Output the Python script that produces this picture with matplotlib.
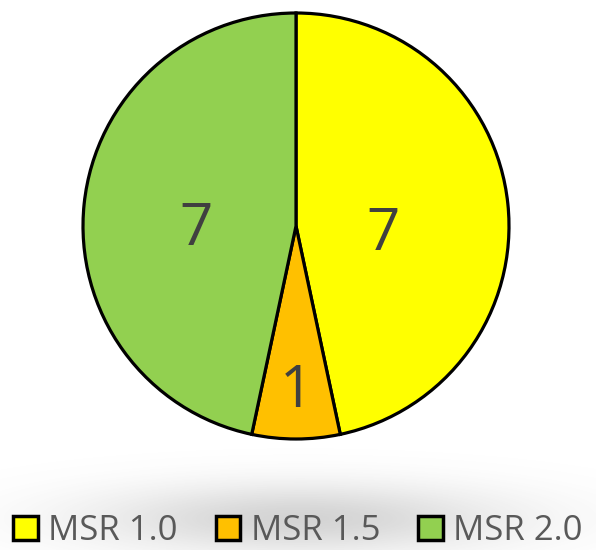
import numpy as np
import matplotlib
matplotlib.use("Agg")
import matplotlib.pyplot as plt
import matplotlib.transforms as mtransforms
from matplotlib.patches import Patch

categories = ["MSR 1.0", "MSR 1.5", "MSR 2.0"]
values = [7, 1, 7]
colors = ["#FFFF00", "#FFC000", "#92D050"]

plt.rcParams['font.family'] = ['Open Sans', 'DejaVu Sans']

W, H = 596, 550
fig = plt.figure(figsize=(W / 100, H / 100), dpi=100)

# soft shadow behind legend
bg = fig.add_axes([0, 0, 1, 1], zorder=0)
bg.set_axis_off()
yy, xx = np.mgrid[0:H, 0:W]
d = ((xx - 300) / 250.0) ** 2 + ((yy - 518) / 42.0) ** 2
alpha = np.clip(np.exp(-d * 1.5) * 0.26, 0, 1)
img = np.zeros((H, W, 4))
img[..., :3] = 0.35
img[..., 3] = alpha
bg.imshow(img, extent=(0, W, H, 0), aspect='auto')
bg.set_xlim(0, W)
bg.set_ylim(H, 0)

r_px = 213
cx, cy = 296, 226
ax = fig.add_axes([(cx - r_px) / W, (H - cy - r_px) / H, 2 * r_px / W, 2 * r_px / H], zorder=1)
wedges, _ = ax.pie(values, colors=colors, startangle=90, counterclock=False,
                   wedgeprops=dict(edgecolor="black", linewidth=2.3), radius=1)
ax.set_xlim(-1.0, 1.0)
ax.set_ylim(-1.0, 1.0)
ax.set_aspect('equal')

label_dist = [0.41, 0.76, 0.47]
label_ang = [-3, -90, 180]
off = mtransforms.offset_copy(ax.transData, fig=fig, x=0, y=-4, units='dots')
for v, r, a in zip(values, label_dist, label_ang):
    t = np.deg2rad(a)
    ax.text(r * np.cos(t), r * np.sin(t), str(v), ha='center', va='center',
            fontsize=42, color="#404040", transform=off)

handles = [Patch(facecolor=c, edgecolor='black', linewidth=2.5) for c in colors]
leg = fig.legend(handles, categories, loc='center', bbox_to_anchor=(0.5, 19 / H), ncol=3,
                 frameon=False, fontsize=25, labelcolor="#595959",
                 handlelength=0.7, handleheight=0.7, handletextpad=0.3, columnspacing=1.1)

fig.savefig("out.png", dpi=100)
